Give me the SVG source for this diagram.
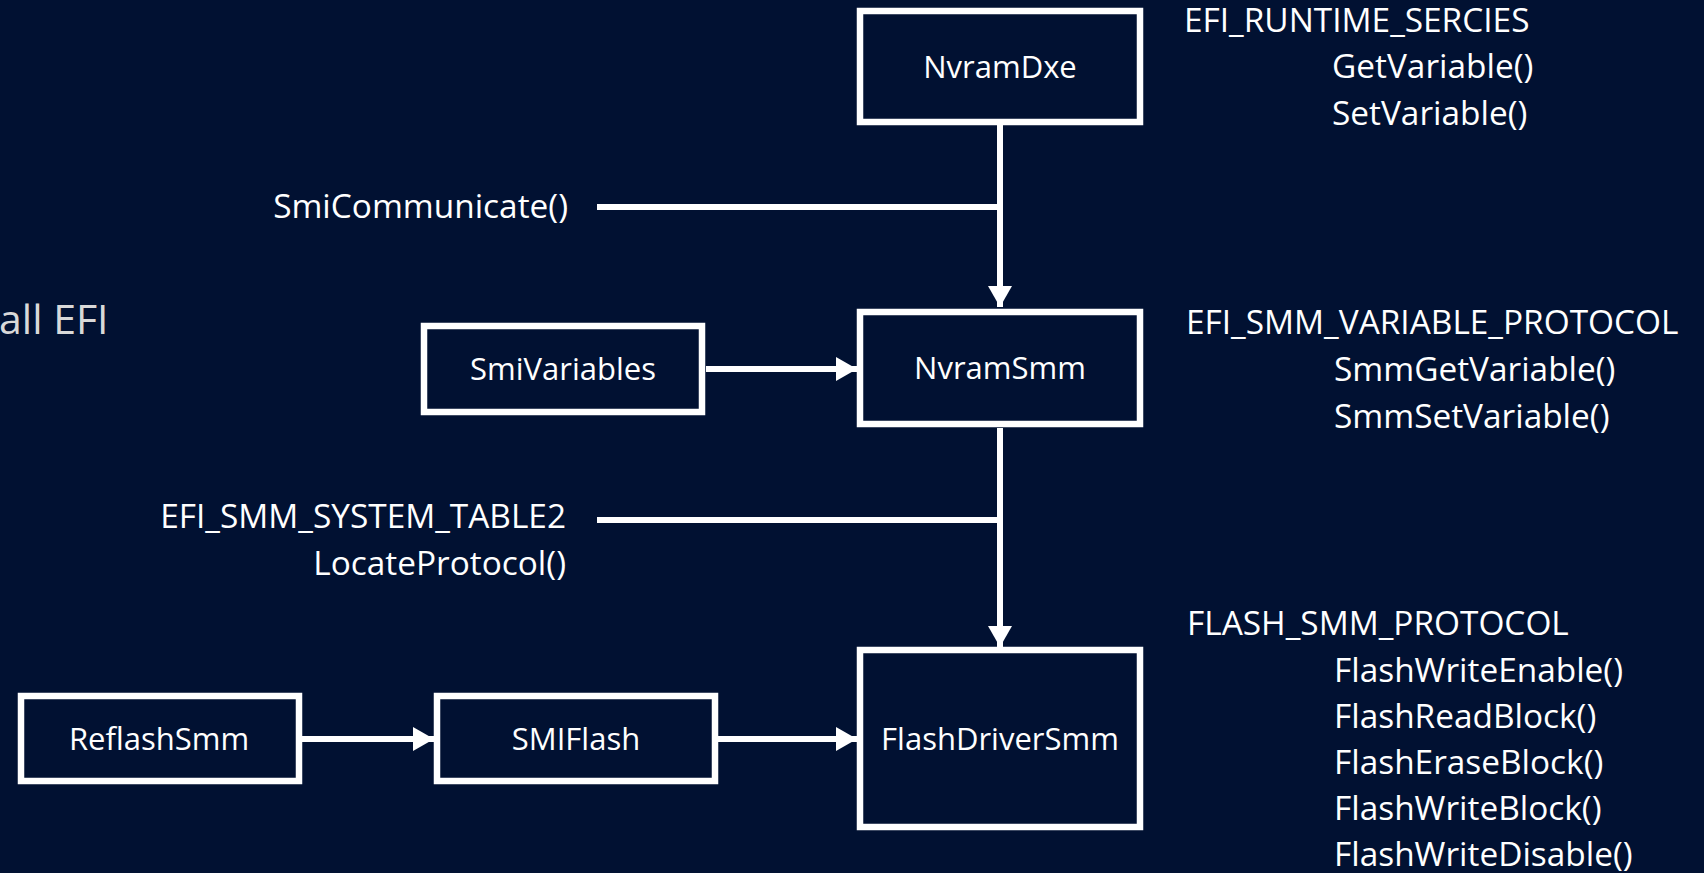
<svg xmlns="http://www.w3.org/2000/svg" width="1704" height="873" viewBox="0 0 1704 873">
<style>
.bg{fill:#011132}
.box{fill:#011132;stroke:#ffffff;stroke-width:6.5}
.t{font-family:"Open Sans","Noto Sans","DejaVu Sans",sans-serif;fill:#ffffff}
.bt{font-size:31px;text-anchor:middle}
.lbl{font-size:33.4px}
.end{text-anchor:end}
.conn{stroke:#ffffff;stroke-width:6;fill:none}
.ah{fill:#ffffff}
</style>
<defs>
<marker id="arrow" markerUnits="userSpaceOnUse" markerWidth="21" markerHeight="24" refX="21" refY="12" orient="auto">
<path class="ah" d="M0,0 L21,12 L0,24 Z"/>
</marker>
</defs>
<rect class="bg" x="0" y="0" width="1704" height="873"/>
<text class="t" x="-1" y="334" style="font-size:41px;fill:#d9d9d9">all EFI</text>
<g id="connectors">
<path class="conn" d="M1000,125 V307" marker-end="url(#arrow)"/>
<path class="conn" d="M597,207 H1000"/>
<path class="conn" d="M706,369 H857" marker-end="url(#arrow)"/>
<path class="conn" d="M1000,428 V647" marker-end="url(#arrow)"/>
<path class="conn" d="M597,520 H1000"/>
<path class="conn" d="M302,739 H434" marker-end="url(#arrow)"/>
<path class="conn" d="M718,739 H857" marker-end="url(#arrow)"/>
</g>
<g id="NvramDxe">
<rect class="box" x="860" y="11" width="280" height="111"/>
<text class="t bt" x="1000" y="77.5">NvramDxe</text>
</g>
<g id="NvramSmm">
<rect class="box" x="860" y="312" width="280" height="112"/>
<text class="t bt" x="1000" y="379">NvramSmm</text>
</g>
<g id="SmiVariables">
<rect class="box" x="424" y="326" width="278" height="86"/>
<text class="t bt" x="563" y="380">SmiVariables</text>
</g>
<g id="ReflashSmm">
<rect class="box" x="21" y="696" width="278" height="85"/>
<text class="t bt" x="159" y="749.5">ReflashSmm</text>
</g>
<g id="SMIFlash">
<rect class="box" x="437" y="696" width="278" height="85"/>
<text class="t bt" x="576" y="749.5">SMIFlash</text>
</g>
<g id="FlashDriverSmm">
<rect class="box" x="860" y="650" width="280" height="177"/>
<text class="t bt" x="1000" y="750">FlashDriverSmm</text>
</g>
<g id="labels">
<text class="t lbl end" x="568" y="218">SmiCommunicate()</text>
<text class="t lbl end" x="566" y="528">EFI_SMM_SYSTEM_TABLE2</text>
<text class="t lbl end" x="566" y="575">LocateProtocol()</text>
<text class="t lbl" x="1184" y="32">EFI_RUNTIME_SERCIES</text>
<text class="t lbl" x="1332" y="78">GetVariable()</text>
<text class="t lbl" x="1332" y="125">SetVariable()</text>
<text class="t lbl" x="1186" y="334">EFI_SMM_VARIABLE_PROTOCOL</text>
<text class="t lbl" x="1334" y="381">SmmGetVariable()</text>
<text class="t lbl" x="1334" y="428">SmmSetVariable()</text>
<text class="t lbl" x="1187" y="635">FLASH_SMM_PROTOCOL</text>
<text class="t lbl" x="1334" y="682">FlashWriteEnable()</text>
<text class="t lbl" x="1334" y="728">FlashReadBlock()</text>
<text class="t lbl" x="1334" y="774">FlashEraseBlock()</text>
<text class="t lbl" x="1334" y="820">FlashWriteBlock()</text>
<text class="t lbl" x="1334" y="866">FlashWriteDisable()</text>
</g>
</svg>
